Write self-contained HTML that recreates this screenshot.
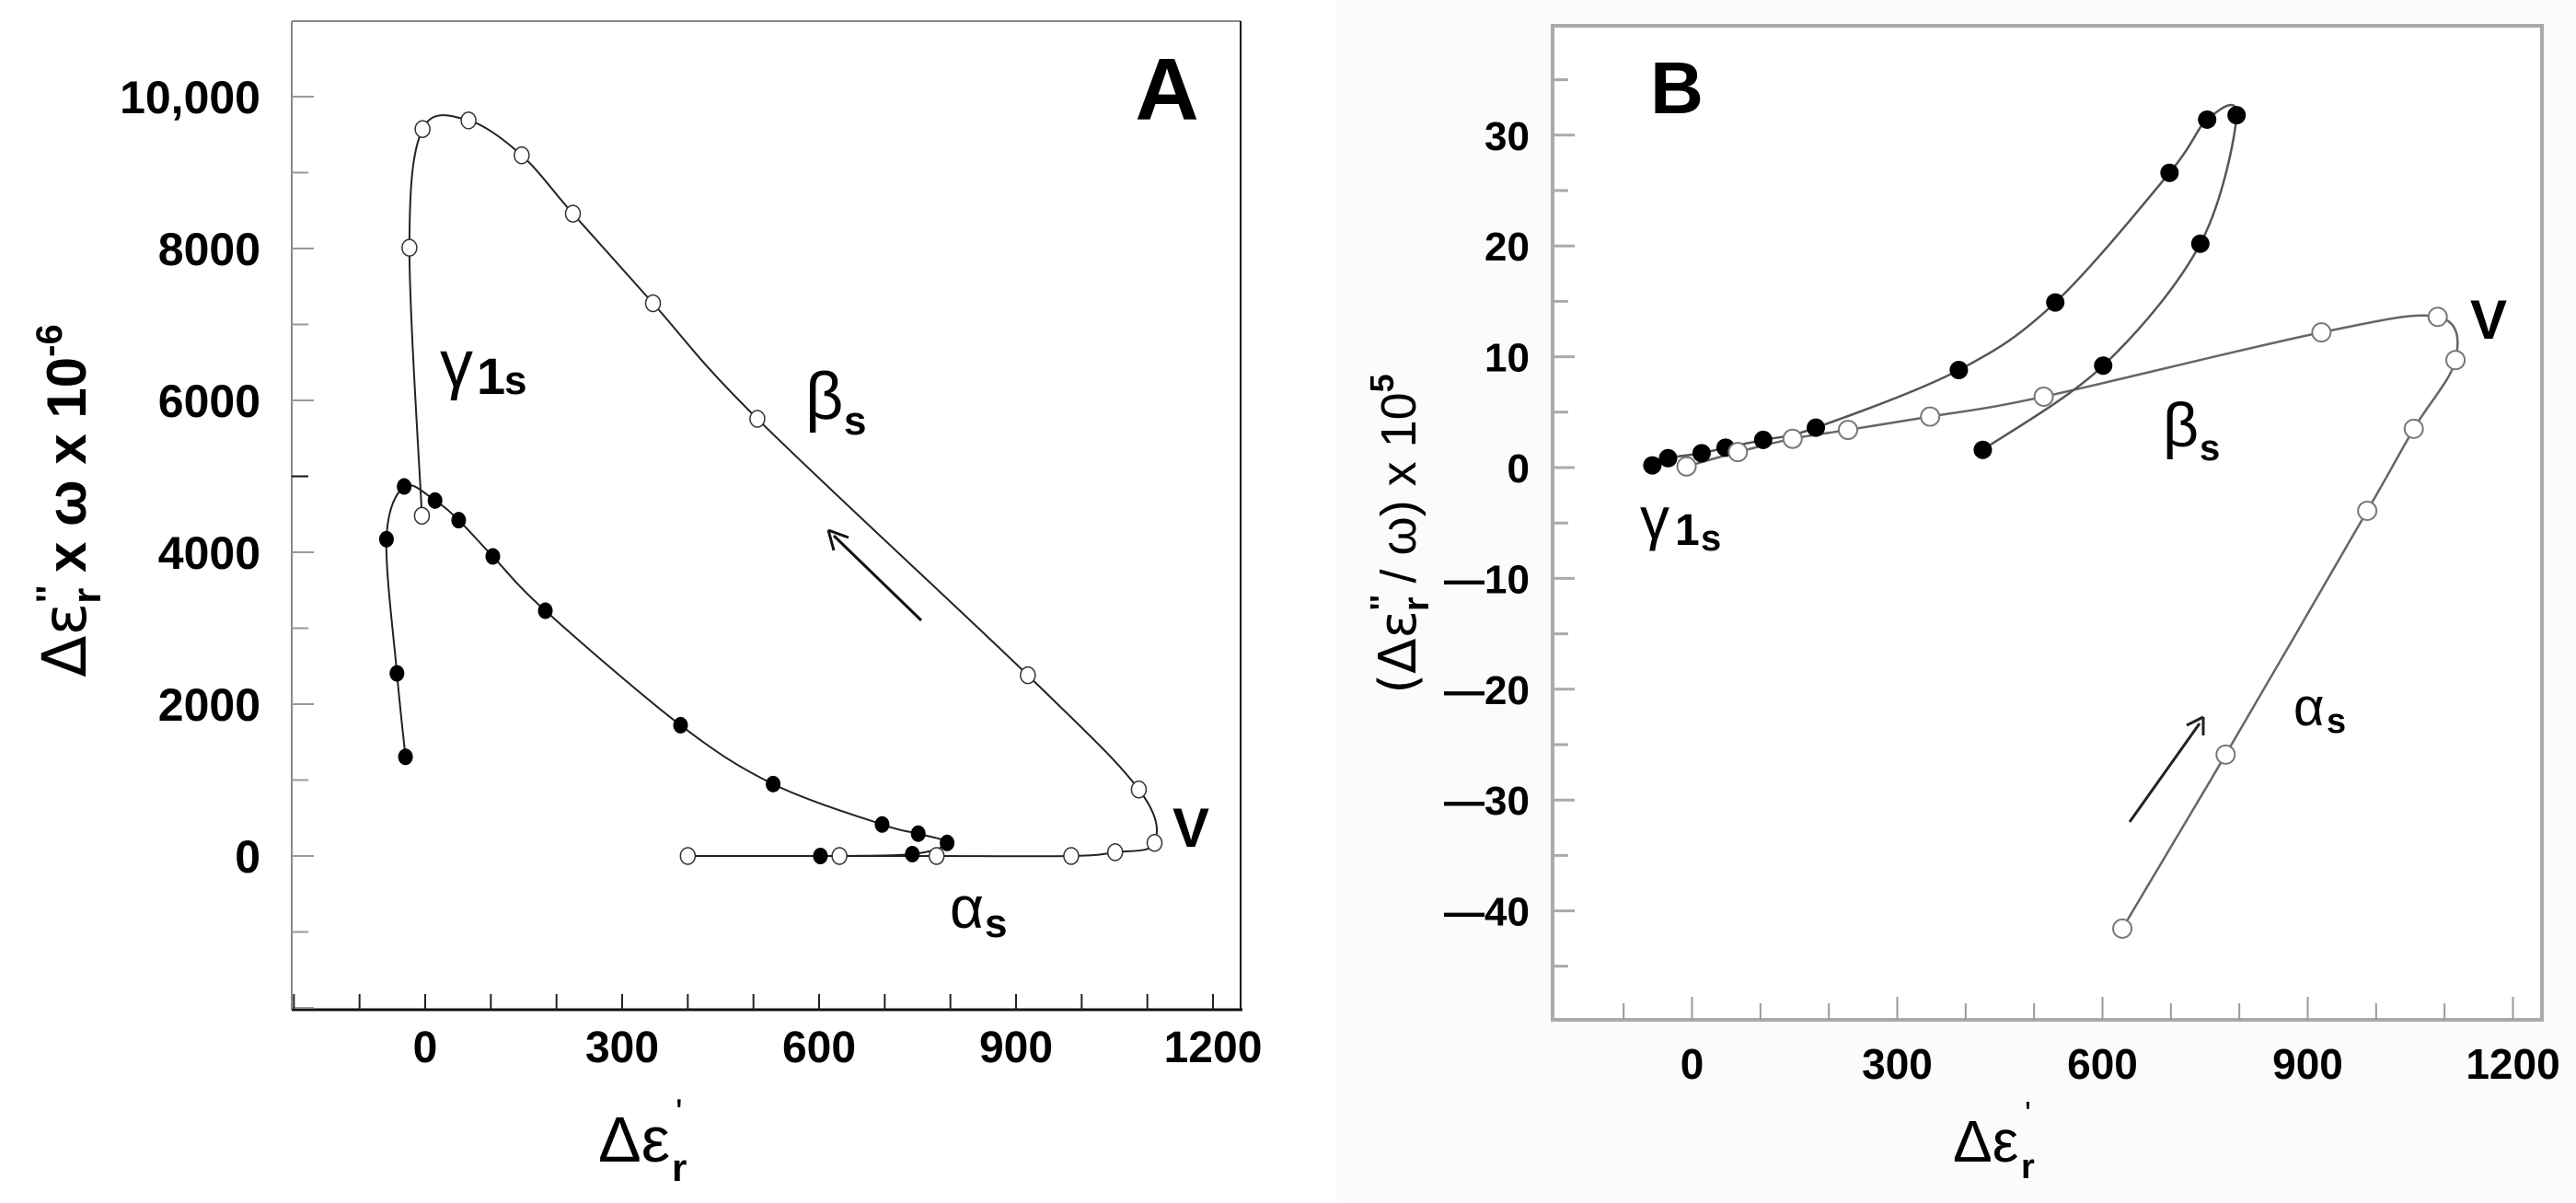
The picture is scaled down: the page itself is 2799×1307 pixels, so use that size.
<!DOCTYPE html>
<html><head><meta charset="utf-8"><style>
html,body{margin:0;padding:0;background:#fff}
svg{display:block}
text{font-family:"Liberation Sans",sans-serif}
</style></head><body>
<svg id="fig" width="2799" height="1307" viewBox="0 0 2799 1307" xmlns="http://www.w3.org/2000/svg">
<rect x="1452" y="0" width="1347" height="1307" fill="#fbfbfb"/>
<g id="pa"></g>
<g id="pb"></g>
</svg>
<script>
// Panel A data
const aOpenX = [400, 631, 779, 984, 1051, 1111, 1087, 918, 506, 347, 225, 147, 66, -4, -24, -5];
const aOpenY = [0, 0, 0, 0, 50, 172, 876, 2380, 5757, 7279, 8459, 9227, 9687, 9573, 8010, 4481];
const aClosedX = [-30, -43, -59, -32, 15, 51, 103, 183, 389, 530, 696, 751, 795, 742, 602];
const aClosedY = [1306, 2405, 4172, 4866, 4681, 4422, 3945, 3230, 1722, 947, 415, 294, 172, 25, 0];
const aXTicks = [0, 300, 600, 900, 1200];
const aYTicks = [0, 2000, 4000, 6000, 8000, 10000];
const aYTickLabels = ["0", "2000", "4000", "6000", "8000", "10,000"];
// Panel B data
const bOpenX = [-8, 67, 147, 228, 348, 514, 920, 1090, 1116, 1055, 987, 780, 629];
const bOpenY = [0.1, 1.4, 2.6, 3.4, 4.6, 6.4, 12.2, 13.6, 9.7, 3.5, -3.9, -25.9, -41.6];
const bClosedX = [-58, -35, 14, 49, 104, 181, 390, 531, 698, 753, 796, 743, 601, 425];
const bClosedY = [0.2, 0.85, 1.3, 1.8, 2.5, 3.6, 8.8, 14.9, 26.6, 31.4, 31.8, 20.2, 9.2, 1.6];
const bXTicks = [0, 300, 600, 900, 1200];
const bYTicks = [-40, -30, -20, -10, 0, 10, 20, 30];

const NS = "http://www.w3.org/2000/svg";
function mk(parent, tag, attrs, txt) {
  const e = document.createElementNS(NS, tag);
  for (const k in attrs) e.setAttribute(k, attrs[k]);
  if (txt !== undefined) e.textContent = txt;
  parent.appendChild(e);
  return e;
}
function smooth(pts) {
  let d = "M" + pts[0][0] + "," + pts[0][1];
  for (let i = 0; i < pts.length - 1; i++) {
    const p0 = pts[Math.max(0, i - 1)], p1 = pts[i], p2 = pts[i + 1], p3 = pts[Math.min(pts.length - 1, i + 2)];
    const c1x = p1[0] + (p2[0] - p0[0]) / 6, c1y = p1[1] + (p2[1] - p0[1]) / 6;
    const c2x = p2[0] - (p3[0] - p1[0]) / 6, c2y = p2[1] - (p3[1] - p1[1]) / 6;
    d += " C" + c1x + "," + c1y + " " + c2x + "," + c2y + " " + p2[0] + "," + p2[1];
  }
  return d;
}

// ---------- Panel A ----------
const A = document.getElementById("pa");
const ax = v => 462 + (v) * (856 / 1200);
const ay = v => 930 - v * (165 / 2000);
let e;
e = mk(A, "line", {x1: 317, y1: 23, x2: 1348, y2: 23, stroke: "#888", "stroke-width": 2});
 
e = mk(A, "line", {x1: 317, y1: 23, x2: 317, y2: 1097, stroke: "#888", "stroke-width": 2});
 
e = mk(A, "line", {x1: 1348, y1: 23, x2: 1348, y2: 1097, stroke: "#111", "stroke-width": 2});
 
e = mk(A, "line", {x1: 317, y1: 1097, x2: 1350, y2: 1097, stroke: "#111", "stroke-width": 3});
 
for (let v = -2000; v <= 10000; v += 1000) {
  const major = v % 2000 === 0;
  e = mk(A, "line", {x1: 317, y1: ay(v), x2: 317 + (major ? 24 : 18), y2: ay(v), stroke: v === 5000 ? "#111" : "#999", "stroke-width": 2});
   
}
aYTicks.forEach((v, i) => {
  e = mk(A, "text", {x: 283, y: ay(v) + 18, "text-anchor": "end", "font-size": 50, "font-weight": "bold"}, aYTickLabels[i]);
   
});
for (let v = -200; v <= 1200; v += 100) {
  e = mk(A, "line", {x1: ax(v), y1: 1097, x2: ax(v), y2: 1080, stroke: "#222", "stroke-width": 2});
   
}
aXTicks.forEach(v => {
  e = mk(A, "text", {x: ax(v), y: 1154, "text-anchor": "middle", "font-size": 48, "font-weight": "bold"}, String(v));
   
});
const aOpenPts = aOpenX.map((x, i) => [ax(x), ay(aOpenY[i])]);
const aClosedPts = aClosedX.map((x, i) => [ax(x), ay(aClosedY[i])]);
e = mk(A, "path", {d: smooth(aOpenPts), fill: "none", stroke: "#222", "stroke-width": 2});
 
e = mk(A, "path", {d: smooth(aClosedPts), fill: "none", stroke: "#222", "stroke-width": 2});
 
aClosedPts.forEach(p => {
  e = mk(A, "ellipse", {cx: p[0], cy: p[1], rx: 8, ry: 9, fill: "#000"});
   
});
aOpenPts.forEach(p => {
  e = mk(A, "ellipse", {cx: p[0], cy: p[1], rx: 8, ry: 9, fill: "#fff", stroke: "#333", "stroke-width": 1.5});
   
});
e = mk(A, "text", {x: 1268, y: 130, "text-anchor": "middle", "font-size": 96, "font-weight": "bold"}, "A");
 
e = mk(A, "text", {x: 478, y: 420, "font-size": 72, "font-family": "DejaVu Sans, sans-serif"}, "γ");
 
e = mk(A, "text", {x: 518, y: 428, "font-size": 56, "font-weight": "bold"}, "1");
e = mk(A, "text", {x: 548, y: 428, "font-size": 44, "font-weight": "bold"}, "s");
e = mk(A, "text", {x: 875, y: 455, "font-size": 72, "font-family": "DejaVu Sans, sans-serif"}, "β");
 
e = mk(A, "text", {x: 917, y: 472, "font-size": 44, "font-weight": "bold"}, "s");
e = mk(A, "text", {x: 1032, y: 1008, "font-size": 64, "font-family": "DejaVu Sans, sans-serif"}, "α");
 
e = mk(A, "text", {x: 1070, y: 1018, "font-size": 44, "font-weight": "bold"}, "s");
e = mk(A, "text", {x: 1274, y: 920, "font-size": 60, "font-weight": "bold"}, "V");
 
e = mk(A, "line", {x1: 1001, y1: 674, x2: 906, y2: 582, stroke: "#111", "stroke-width": 3});
 
e = mk(A, "path", {d: "M900,576 L922,584 M900,576 L906,598", stroke: "#111", "stroke-width": 3, fill: "none"});
e = mk(A, "text", {x: 650, y: 1262, "font-size": 70, "font-family": "DejaVu Sans, sans-serif"}, "Δε");
 
e = mk(A, "text", {x: 730, y: 1283, "font-size": 42, "font-weight": "bold"}, "r");
e = mk(A, "text", {x: 734, y: 1222, "font-size": 40}, "'");
const yt = mk(A, "text", {transform: "translate(93,544) rotate(-90)", "text-anchor": "middle", "font-size": 60, "font-weight": "bold"});
 
mk(yt, "tspan", {"font-weight": "normal", "font-family": "DejaVu Sans, sans-serif", "font-size": 66}, "Δε");
mk(yt, "tspan", {dy: -26, "font-size": 40}, "''");
mk(yt, "tspan", {dx: -20, dy: 42, "font-size": 44}, "r");
mk(yt, "tspan", {dy: -16}, " x ω x 10");
mk(yt, "tspan", {dy: -26, "font-size": 40}, "-6");

// ---------- Panel B ----------
const B = document.getElementById("pb");
const bx = v => 1838.5 + v * (892 / 1200);
const by = v => 508 - v * 12.04;
e = mk(B, "rect", {x: 1687, y: 28, width: 1075, height: 1080, fill: "#fff", stroke: "#aaa", "stroke-width": 4});
 
for (let v = -45; v <= 35; v += 5) {
  const major = v % 10 === 0;
  e = mk(B, "line", {x1: 1687, y1: by(v), x2: 1687 + (major ? 24 : 17), y2: by(v), stroke: "#aaa", "stroke-width": 3});
   
}
bYTicks.forEach(v => {
  e = mk(B, "text", {x: 1662, y: by(v) + 16, "text-anchor": "end", "font-size": 44, "font-weight": "bold", "font-family": "DejaVu Sans, sans-serif"}, v < 0 ? "—" + Math.abs(v) : String(v));
   
});
for (let v = -100; v <= 1200; v += 100) {
  const major = v % 300 === 0;
  e = mk(B, "line", {x1: bx(v), y1: 1108, x2: bx(v), y2: major ? 1083 : 1090, stroke: "#999", "stroke-width": 2});
   
}
bXTicks.forEach(v => {
  e = mk(B, "text", {x: bx(v), y: 1172, "text-anchor": "middle", "font-size": 46, "font-weight": "bold"}, String(v));
   
});
const bOpenPts = bOpenX.map((x, i) => [bx(x), by(bOpenY[i])]);
const bClosedPts = bClosedX.map((x, i) => [bx(x), by(bClosedY[i])]);
e = mk(B, "path", {d: smooth(bOpenPts), fill: "none", stroke: "#666", "stroke-width": 2.5});
 
e = mk(B, "path", {d: smooth(bClosedPts), fill: "none", stroke: "#555", "stroke-width": 2.5});
 
bClosedPts.forEach(p => {
  e = mk(B, "ellipse", {cx: p[0], cy: p[1], rx: 10, ry: 10, fill: "#000"});
   
});
bOpenPts.forEach(p => {
  e = mk(B, "ellipse", {cx: p[0], cy: p[1], rx: 10, ry: 10, fill: "#fff", stroke: "#777", "stroke-width": 2});
   
});
e = mk(B, "text", {x: 1822, y: 123, "text-anchor": "middle", "font-size": 80, "font-weight": "bold"}, "B");
 
e = mk(B, "text", {x: 1782, y: 585, "font-size": 64, "font-family": "DejaVu Sans, sans-serif"}, "γ");
 
e = mk(B, "text", {x: 1820, y: 592, "font-size": 48, "font-weight": "bold"}, "1");
e = mk(B, "text", {x: 1848, y: 598, "font-size": 40, "font-weight": "bold"}, "s");
e = mk(B, "text", {x: 2350, y: 485, "font-size": 68, "font-family": "DejaVu Sans, sans-serif"}, "β");
 
e = mk(B, "text", {x: 2390, y: 500, "font-size": 40, "font-weight": "bold"}, "s");
e = mk(B, "text", {x: 2492, y: 788, "font-size": 58, "font-family": "DejaVu Sans, sans-serif"}, "α");
 
e = mk(B, "text", {x: 2528, y: 796, "font-size": 38, "font-weight": "bold"}, "s");
e = mk(B, "text", {x: 2684, y: 368, "font-size": 60, "font-weight": "bold"}, "V");
 
e = mk(B, "line", {x1: 2314, y1: 893, x2: 2390, y2: 786, stroke: "#222", "stroke-width": 3});
 
e = mk(B, "path", {d: "M2394,779 L2376,788 M2394,779 L2394,799", stroke: "#222", "stroke-width": 3, fill: "none"});
e = mk(B, "text", {x: 2122, y: 1262, "font-size": 64, "font-family": "DejaVu Sans, sans-serif"}, "Δε");
 
e = mk(B, "text", {x: 2196, y: 1280, "font-size": 38, "font-weight": "bold"}, "r");
e = mk(B, "text", {x: 2200, y: 1222, "font-size": 36}, "'");
const yb = mk(B, "text", {transform: "translate(1538,580) rotate(-90)", "text-anchor": "middle", "font-size": 54, "font-weight": "bold"});
 
mk(yb, "tspan", {"font-weight": "normal", "font-family": "DejaVu Sans, sans-serif", "font-size": 56}, "(Δε");
mk(yb, "tspan", {dy: -24, "font-size": 36}, "''");
mk(yb, "tspan", {dx: -18, dy: 38, "font-size": 40}, "r");
mk(yb, "tspan", {dy: -14, "font-weight": "normal"}, " / ω) x 10");
mk(yb, "tspan", {dy: -24, "font-size": 36}, "5");
</script>
</body></html>
